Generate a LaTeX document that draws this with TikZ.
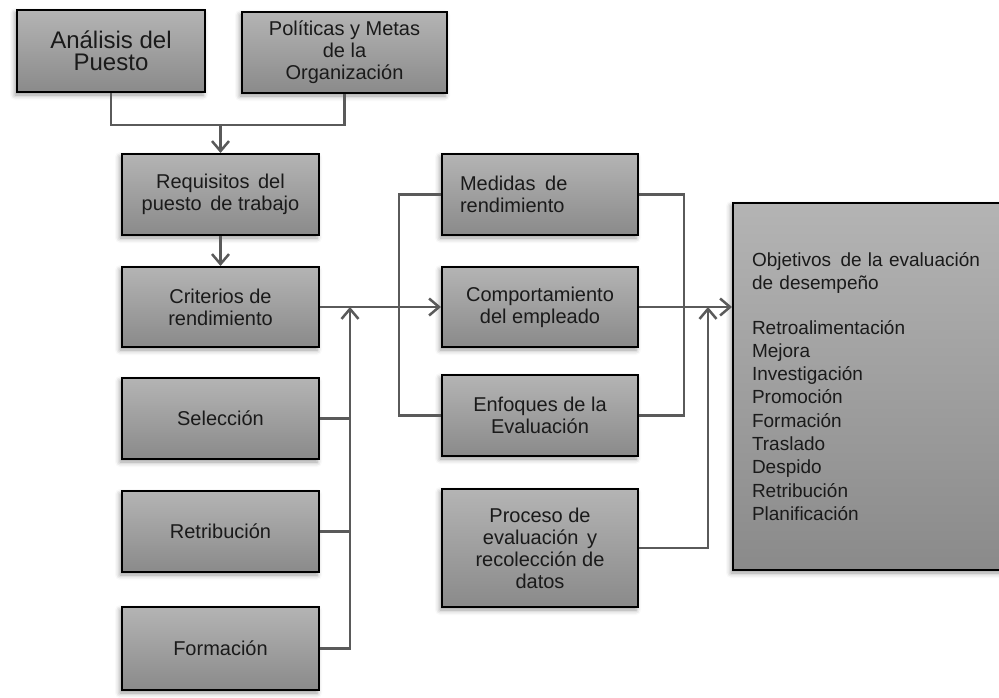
\documentclass[tikz,border=0pt]{standalone}
\usepackage{fontspec}
\setmainfont{Liberation Sans}
\usetikzlibrary{arrows.meta,shadows.blur}

\definecolor{boxtop}{HTML}{B4B4B4}
\definecolor{boxbot}{HTML}{8A8A8A}
\definecolor{linec}{HTML}{5A5A5A}
\definecolor{txt}{HTML}{1A1A1A}

\newcommand{\wsp}{\hspace{3pt} }

\begin{document}
\begin{tikzpicture}[x=1pt,y=-1pt,
  box/.style={draw=black, line width=2pt, top color=boxtop, bottom color=boxbot,
    blur shadow={shadow xshift=-2pt, shadow yshift=-3pt, shadow blur radius=5pt, shadow opacity=40},
    text=txt, font=\fontsize{20}{22}\selectfont, align=center, inner sep=0pt},
  link/.style={draw=linec, line width=2.5pt},
  tip/.style={-{Straight Barb[length=10pt,width=17pt,line width=2.5pt]}}
]
\useasboundingbox (0,0) rectangle (999,698);
\clip (0,0) rectangle (999,698);

% left column
\node[box, minimum width=188, minimum height=82, font=\fontsize{24}{22}\selectfont] (ana) at (111,51) {Análisis del\\Puesto};
\node[box, minimum width=205, minimum height=81] (pol) at (344.5,52.5) {Políticas y Metas\\de la\\Organización};
\node[box, minimum width=197, minimum height=81] (req) at (220.5,194.5) {Requisitos\wsp del\\puesto\wsp de trabajo};
\node[box, minimum width=197, minimum height=80] (cri) at (220.5,307) {Criterios de\\rendimiento};
\node[box, minimum width=197, minimum height=81] (sel) at (220.5,418.5) {Selección};
\node[box, minimum width=197, minimum height=81] (ret) at (220.5,531.5) {Retribución};
\node[box, minimum width=197, minimum height=83] (frm) at (220.5,648.5) {Formación};

% middle column
\node[box, minimum width=196, minimum height=81, text width=160, align=left] (med) at (540,194.5) {Medidas\wsp de\\rendimiento};
\node[box, minimum width=196, minimum height=80] (com) at (540,307) {Comportamiento\\del empleado};
\node[box, minimum width=196, minimum height=81] (enf) at (540,415.5) {Enfoques de la\\Evaluación};
\node[box, minimum width=196, minimum height=118] (pro) at (540,548) {Proceso de\\evaluación\wsp y\\recolección de\\datos};

% objectives
\node[box, minimum width=272, minimum height=367, text width=234, align=left,
  font=\fontsize{19}{23.3}\selectfont] (obj) at (869,386.5)
  {Objetivos\wsp de la evaluación\\de desempeño\\[21pt]Retroalimentación\\Mejora\\Investigación\\Promoción\\Formación\\Traslado\\Despido\\Retribución\\Planificación};

% connectors
\coordinate (j) at (220.5,125);
\coordinate (busL) at (350,307);
\coordinate (busR) at (708,307);

\draw[link] (ana.south) |- (j) -| (pol.south);
\draw[link,tip] (j) -- (req.north);
\draw[link,tip] (req.south) -- (cri.north);
\draw[link,tip] (cri.east) -- (com.west);

\draw[link] (sel.east) -- (sel.east -| busL);
\draw[link] (ret.east) -- (ret.east -| busL);
\draw[link,tip] (frm.east) -| (busL);

\draw[link] (med.west) -- ++(-42,0) |- (enf.west);
\draw[link] (med.east) -- ++(45,0) |- (enf.east);

\draw[link,tip] (com.east) -- (com.east -| obj.west);
\draw[link,tip] (pro.east) -| (busR);
\end{tikzpicture}
\end{document}
